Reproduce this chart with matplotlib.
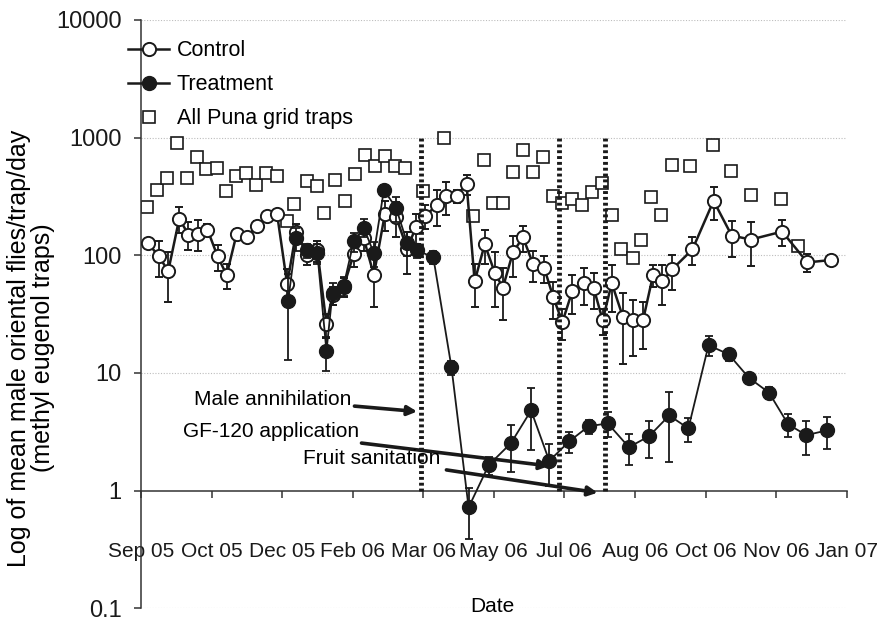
import numpy as np
import matplotlib
matplotlib.use("Agg")
import matplotlib.pyplot as plt
from matplotlib.lines import Line2D

plt.rcParams['font.family'] = ['Liberation Sans', 'DejaVu Sans']

# x in weeks from the first axis tick (ticks every 7 weeks)
tick_labels = ["Sep 05", "Oct 05", "Dec 05", "Feb 06", "Mar 06", "May 06",
               "Jul 06", "Aug 06", "Oct 06", "Nov 06", "Jan 07"]

control_wk = [0.7, 1.8, 2.7, 3.8, 4.7, 5.7, 6.6, 7.6, 8.5, 9.5, 10.5, 11.5, 12.5,
              13.5, 14.5, 15.4, 16.5, 17.5, 18.4, 19.0, 20.1, 21.1, 22.1, 23.1,
              24.2, 25.3, 26.4, 27.3, 28.2, 29.4, 30.3, 31.3, 32.3, 33.1, 34.1,
              35.1, 35.9, 36.9, 37.9, 38.9, 40.0, 40.9, 41.8, 42.8, 43.9, 44.9,
              45.8, 46.7, 47.8, 48.8, 49.8, 50.8, 51.7, 52.7, 54.7, 56.8, 58.6,
              60.5, 63.6, 66.1, 68.4]
control_val = [126, 98, 73, 205, 150, 153, 165, 98, 68, 153, 142, 179, 217,
               225, 57, 159, 100, 110, 26, 46, 54, 102, 139, 68,
               225, 213, 114, 175, 217, 268, 319, 319, 403, 60, 124,
               71, 53, 106, 142, 84, 78, 44, 27, 50, 58, 53,
               28, 58, 30, 28, 28, 68, 60, 76, 112, 290, 147,
               136, 159, 87, 91]
control_err = [10, 33, 33, 50, 40, 45, 20, 25, 16, 15, 10, 15, 12,
               15, 20, 25, 18, 22, 6, 8, 10, 22, 30, 32,
               65, 70, 45, 50, 50, 90, 100, 40, 80, 24, 40,
               35, 25, 40, 35, 25, 20, 15, 8, 18, 20, 18,
               7, 25, 18, 14, 12, 14, 22, 25, 30, 90, 50,
               55, 40, 15, 10]

treat_wk = [14.6, 15.4, 16.5, 17.5, 18.4, 19.0, 20.1, 21.1, 22.1, 23.1, 24.1,
            25.3, 26.4, 27.4, 29.0, 30.8, 32.5, 34.5, 36.7, 38.7, 40.5, 42.5,
            44.4, 46.3, 48.4, 50.4, 52.4, 54.3, 56.3, 58.3, 60.3, 62.3, 64.2,
            66.0, 68.1]
treat_val = [41, 139, 110, 104, 15.3, 48, 55, 131, 172, 104, 359,
             253, 128, 110, 96, 11.2, 0.72, 1.65, 2.53, 4.8, 1.79, 2.63,
             3.52, 3.73, 2.34, 2.9, 4.35, 3.38, 17.2, 14.4, 9.1, 6.8, 3.66,
             2.96, 3.26]
treat_err = [28, 30, 15, 20, 5, 10, 10, 25, 30, 25, 40,
             60, 30, 15, 12, 1.5, 0.33, 0.3, 1.1, 2.6, 0.7, 0.55,
             0.5, 0.9, 0.7, 1.0, 2.6, 0.8, 3.3, 1.7, 0.5, 0.8, 0.8,
             0.95, 1.0]

puna_wk = [0.6, 1.6, 2.6, 3.6, 4.6, 5.6, 6.5, 7.5, 8.4, 9.4, 10.4, 11.4, 12.4,
           13.5, 14.5, 15.2, 16.5, 17.5, 18.2, 19.2, 20.2, 21.2, 22.2, 23.2,
           24.2, 25.2, 26.2, 28.0, 30.1, 32.9, 34.0, 34.9, 35.9, 36.9, 37.9,
           38.9, 39.9, 40.9, 41.8, 42.8, 43.7, 44.7, 45.7, 46.7, 47.6, 48.8,
           49.6, 50.6, 51.6, 52.7, 54.5, 56.7, 58.5, 60.5, 63.5, 65.2]
puna_val = [258, 359, 452, 907, 452, 679, 538, 549, 352, 470, 498, 395, 498,
            470, 197, 274, 427, 387, 230, 435, 290, 489, 706, 571,
            692, 571, 549, 352, 1000, 217, 641, 279, 279, 508, 778,
            508, 679, 319, 279, 301, 268, 345, 410, 221, 114, 94,
            136, 313, 221, 582, 571, 857, 518, 326, 301, 121]

event_wk = [27.8, 41.5, 46.0]

ink = '#1a1a1a'

fig = plt.figure(figsize=(8.81, 6.22), dpi=100)
ax = fig.add_axes([0.160, 0.022, 0.801, 0.946])

ax.set_yscale('log')
ax.set_ylim(0.1, 10000)
ax.set_xlim(0, 70)

for y in [0.1, 10, 100, 1000, 10000]:
    ax.axhline(y, color='#bdbdbd', lw=0.8, ls=(0, (1, 1.5)), zorder=0)

ax.errorbar(control_wk, control_val, yerr=control_err, color=ink, lw=1.8,
            marker='o', ms=9.5, mfc='white', mec=ink, mew=1.4,
            ecolor=ink, elinewidth=1.3, capsize=3.2, capthick=1.3, zorder=3)
ax.errorbar(treat_wk, treat_val, yerr=treat_err, color=ink, lw=1.3,
            marker='o', ms=10, mfc=ink, mec=ink,
            ecolor=ink, elinewidth=1.3, capsize=3.2, capthick=1.3, zorder=4)
ax.plot(puna_wk, puna_val, ls='none', marker='s', ms=8.5, mfc='white',
        mec=ink, mew=1.2, zorder=2)

for x in event_wk:
    ax.plot([x, x], [1, 1000], color=ink, lw=3.5, ls=(0, (0.6, 0.6)), zorder=5)

arrow = dict(arrowstyle='-|>', lw=2.6, color=ink, mutation_scale=14,
             shrinkA=0, shrinkB=0)
ax.annotate('Male annihilation', xy=(27.4, 4.7), xytext=(20.9, 6.0),
            fontsize=15, ha='right', va='center', arrowprops=arrow, zorder=6)
ax.annotate('GF-120 application', xy=(40.5, 1.62), xytext=(21.6, 3.15),
            fontsize=15, ha='right', va='center', arrowprops=arrow, zorder=6)
ax.text(16.1, 1.86, 'Fruit sanitation', fontsize=15, ha='left', va='center',
        zorder=6)
ax.annotate('', xy=(45.3, 0.96), xytext=(30.3, 1.5), arrowprops=arrow, zorder=6)

ax.spines['top'].set_visible(False)
ax.spines['right'].set_visible(False)
ax.spines['bottom'].set_position(('data', 1))
for s in ['left', 'bottom']:
    ax.spines[s].set_color('#333333')
    ax.spines[s].set_linewidth(1.1)

ax.set_xticks(np.arange(0, 71, 7))
ax.set_xticklabels(tick_labels)
ax.set_yticks([0.1, 1, 10, 100, 1000, 10000])
ax.set_yticklabels(['0.1', '1', '10', '100', '1000', '10000'])
ax.yaxis.set_minor_locator(matplotlib.ticker.NullLocator())
ax.tick_params(axis='x', direction='out', length=5, width=1.1, pad=32,
               labelsize=15, colors='#333333', labelcolor=ink)
ax.tick_params(axis='y', direction='out', length=5, width=1.1, pad=9,
               labelsize=17, colors='#333333', labelcolor=ink)

fig.text(492 / 881, 1 - 606 / 622, 'Date', fontsize=15, ha='center', va='center')
fig.text(31 / 881, 1 - 348 / 622,
         'Log of mean male oriental flies/trap/day\n(methyl eugenol traps)',
         fontsize=18, rotation=90, ha='center', va='center',
         multialignment='center', linespacing=1.05)

handles = [
    Line2D([], [], color=ink, lw=1.8, marker='o', ms=9.5, mfc='white',
           mec=ink, mew=1.4),
    Line2D([], [], color=ink, lw=1.8, marker='o', ms=10, mfc=ink, mec=ink),
    Line2D([], [], ls='none', marker='s', ms=8.5, mfc='white', mec=ink,
           mew=1.2),
]
ax.legend(handles, ['Control', 'Treatment', 'All Puna grid traps'],
          loc='upper left', bbox_to_anchor=(-0.018, 0.965), frameon=False,
          fontsize=15.5, handlelength=1.9, handletextpad=0.35,
          labelspacing=0.6, borderpad=0, borderaxespad=0)

fig.savefig('out.png', dpi=100, facecolor='white')
